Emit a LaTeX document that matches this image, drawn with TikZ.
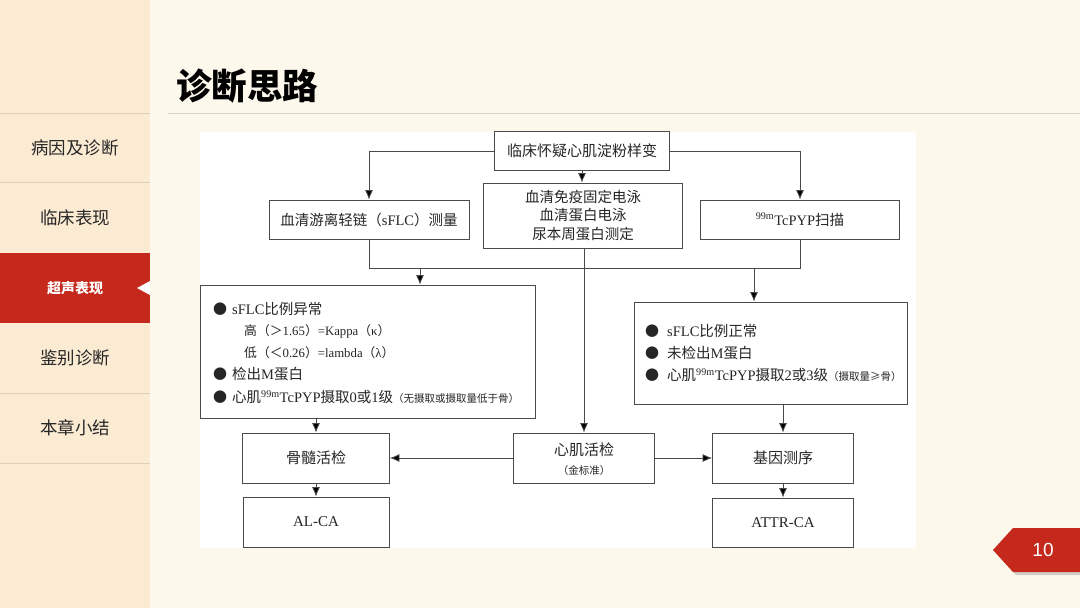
\documentclass[tikz,border=0pt]{standalone}
\usepackage{fontspec}
\setmainfont{Liberation Serif}
\setsansfont{Liberation Sans}
\newfontfamily\cjk{Noto Sans CJK SC}
\usepackage{tikz}
\usetikzlibrary{arrows.meta,positioning,calc}

\newcommand{\zh}[1]{{\cjk #1}}

\definecolor{mainbg}{HTML}{FDF8EC}
\definecolor{sidebg}{HTML}{FCEBD3}
\definecolor{tabred}{HTML}{C4291B}
\definecolor{sepline}{HTML}{DDD0BC}
\definecolor{linegray}{HTML}{4A4A4A}
\definecolor{inkdark}{HTML}{262626}

\tikzset{
	box/.style={draw=linegray, fill=white, line width=0.8pt, inner sep=0pt,
		align=center, text=inkdark, font=\fontsize{14.5}{18.5}\selectfont},
	arr/.style={-{Latex[length=9.5pt,width=8pt,fill=black]}, draw=linegray, line width=0.8pt},
	link/.style={draw=linegray, line width=0.8pt},
	bul/.style={inner sep=0pt, text=inkdark, font=\fontsize{14}{15}\selectfont},
	txt/.style={anchor=west, inner sep=0pt, text=inkdark, font=\fontsize{14.5}{17}\selectfont},
	subtxt/.style={anchor=west, inner sep=0pt, text=inkdark, font=\fontsize{12.8}{15}\selectfont},
	menu/.style={inner sep=0pt, text=inkdark, font=\cjk\fontsize{17.5}{20}\selectfont},
}

\begin{document}
\begin{tikzpicture}[x=1pt, y=-1pt]
	\useasboundingbox (0,0) rectangle (1080,608);
	\fill[mainbg] (0,0) rectangle (1080,608);
	\fill[sidebg] (0,0) rectangle (150,608);

	% side menu
	\foreach \yy in {113,182,393,463}
		\draw[sepline, line width=0.8pt] (0,\yy) -- (150,\yy);
	\fill[tabred] (0,253) rectangle (150,323);
	\fill[white] (137,288) -- (150,281) -- (150,295) -- cycle;
	\node[menu] (m1) at (75,148) {病因及诊断};
	\node[menu] (m2) at (75,218) {临床表现};
	\node[menu, text=white, font=\cjk\bfseries\fontsize{14}{16}\selectfont] (m3) at (75,288) {超声表现};
	\node[menu] (m4) at (75,358) {鉴别诊断};
	\node[menu] (m5) at (75,428) {本章小结};

	% title
	\node[anchor=west, inner sep=0pt, font=\cjk\bfseries\fontsize{35.5}{38}\selectfont] (title) at (176,86) {诊断思路};
	\draw[sepline, line width=0.6pt] (168,113) -- (1080,113);

	% page badge
	\fill[black!35, opacity=0.5] (996,553) -- (1016,531) -- (1080,531) -- (1080,575) -- (1016,575) -- cycle;
	\fill[tabred] (993,550) -- (1013,528) -- (1080,528) -- (1080,572) -- (1013,572) -- cycle;
	\node[text=white, font=\sffamily\fontsize{19}{21}\selectfont] (pg) at (1043,550) {10};

	% flowchart
	\fill[white] (200,132) rectangle (916,548);
	\node[box, minimum width=175, minimum height=39, font=\cjk\fontsize{15}{18}\selectfont] (b0) at (582,151) {临床怀疑心肌淀粉样变};
	\node[box, minimum width=200, minimum height=39] (b1) at (369,219.5) {\zh{血清游离轻链（}sFLC\zh{）测量}};
	\node[box, minimum width=199, minimum height=65, font=\cjk\fontsize{14.5}{18.5}\selectfont] (b2) at (583,215.5) {血清免疫固定电泳\\血清蛋白电泳\\尿本周蛋白测定};
	\node[box, minimum width=199, minimum height=39] (b3) at (800,219.5) {\textsuperscript{99m}TcPYP\zh{扫描}};
	\node[box, minimum width=335, minimum height=133] (b4) at (367.5,351.5) {};
	\node[box, minimum width=273, minimum height=102] (b5) at (770.5,353) {};
	\node[box, minimum width=147, minimum height=50, font=\cjk\fontsize{15}{18}\selectfont] (bm) at (316,458) {骨髓活检};
	\node[box, minimum width=146, minimum height=50, font=\fontsize{15}{18}\selectfont] (al) at (316,522) {AL-CA};
	\node[box, minimum width=141, minimum height=50] (mb) at (584,458) {};
	\node[inner sep=0pt, text=inkdark, font=\cjk\fontsize{15}{18}\selectfont] (mb1) at (584,450) {心肌活检};
	\node[inner sep=0pt, text=inkdark, font=\cjk\fontsize{10.5}{12}\selectfont] (mb2) at (584,471) {（金标准）};
	\node[box, minimum width=141, minimum height=50, font=\cjk\fontsize{15}{18}\selectfont] (gs) at (783,458) {基因测序};
	\node[box, minimum width=141, minimum height=49, font=\fontsize{15}{18}\selectfont] (attr) at (783,522.5) {ATTR-CA};

	% left result box
	\node[bul] (p1) at (220,309) {\zh{●}};
	\node[txt] (t1) at (232,309) {sFLC\zh{比例异常}};
	\node[subtxt] (t2) at (244,331) {\zh{高（＞}1.65\zh{）}=Kappa\zh{（}κ\zh{）}};
	\node[subtxt] (t3) at (244,353) {\zh{低（＜}0.26\zh{）}=lambda\zh{（}λ\zh{）}};
	\node[bul] (p2) at (220,374) {\zh{●}};
	\node[txt] (t4) at (232,374) {\zh{检出}M\zh{蛋白}};
	\node[bul] (p3) at (220,397) {\zh{●}};
	\node[txt] (t5) at (232,397) {\zh{心肌}\textsuperscript{99m}TcPYP\zh{摄取}0\zh{或}1\zh{级}{\cjk\fontsize{10.5}{12}\selectfont（无摄取或摄取量低于骨）}};

	% right result box
	\node[bul] (q1) at (652,331) {\zh{●}};
	\node[txt] (u1) at (667,331) {sFLC\zh{比例正常}};
	\node[bul] (q2) at (652,353) {\zh{●}};
	\node[txt] (u2) at (667,353) {\zh{未检出}M\zh{蛋白}};
	\node[bul] (q3) at (652,375) {\zh{●}};
	\node[txt] (u3) at (667,375) {\zh{心肌}\textsuperscript{99m}TcPYP\zh{摄取}2\zh{或}3\zh{级}{\cjk\fontsize{10.5}{12}\selectfont（摄取量≥骨）}};

	% connectors
	\coordinate (jl) at (369,268);
	\coordinate (jr) at (800,268);
	\coordinate (ja) at (420,268);
	\coordinate (jb) at (754,268);
	\draw[arr] (b0.west) -| (b1.north);
	\draw[arr] (b0.east) -| (b3.north);
	\draw[arr] (b0.south) -- (b0.south |- b2.north);
	\draw[link] (b1.south) -- (jl) -- (jr) -- (b3.south);
	\draw[arr] (ja) -- (ja |- b4.north);
	\draw[arr] (jb) -- (jb |- b5.north);
	\draw[arr] (b2.south -| mb.north) -- (mb.north);
	\draw[arr] (bm.north |- b4.south) -- (bm.north);
	\draw[arr] (gs.north |- b5.south) -- (gs.north);
	\draw[arr] (mb.west) -- (bm.east);
	\draw[arr] (mb.east) -- (gs.west);
	\draw[arr] (bm) -- (al);
	\draw[arr] (gs) -- (attr);
\end{tikzpicture}
\end{document}
